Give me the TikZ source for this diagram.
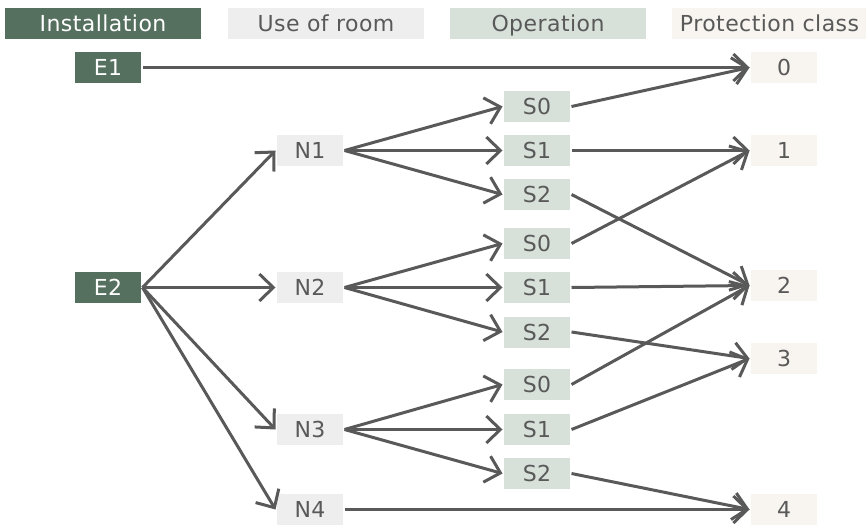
\documentclass[tikz,border=0pt]{standalone}
\usepackage{fontspec}
\setmainfont{DejaVu Sans}[LetterSpace=2]
\usetikzlibrary{arrows.meta}
\definecolor{darkgreen}{HTML}{56705F}
\definecolor{roomgray}{HTML}{EEEEEE}
\definecolor{opgreen}{HTML}{D7E1DA}
\definecolor{classwhite}{HTML}{F8F5F0}
\definecolor{linegray}{HTML}{595959}

\begin{document}
\begin{tikzpicture}[x=1pt,y=-1pt,font=\fontsize{22}{26}\selectfont,
  box/.style={minimum width=66pt,minimum height=31pt,inner sep=0pt,text height=16pt,text depth=0pt,text=linegray},
  head/.style={box,minimum width=196pt},
  inst/.style={fill=darkgreen,text=white},
  room/.style={fill=roomgray},
  oper/.style={fill=opgreen},
  prot/.style={fill=classwhite},
  >={Straight Barb[length=14pt,width=27pt]},->,line width=3pt,draw=linegray]
                \useasboundingbox (0,0) rectangle (866,525);
                % column heads
                \node[head, inst] (hinst) at (103,23.5) {Installation};
                \node[head, room] (hroom) at (326,23.5) {Use of room};
                \node[head, oper] (hoper) at (548,23.5) {Operation};
                \node[head, prot] (hprot) at (769.5,23.5) {Protection class};

                \node[box, inst] (e1) at (108,67.5) {E1};
                \node[box, inst] (e2) at (108,287.5) {E2};

                \node[box, room] (n1) at (310,150.5) {N1};
                \node[box, room] (n2) at (310,287.5) {N2};
                \node[box, room] (n3) at (310,429.5) {N3};
                \node[box, room] (n4) at (310,509.5) {N4};

                \node[box, oper] (s10) at (537,106.5) {S0};
                \node[box, oper] (s11) at (537,150.5) {S1};
                \node[box, oper] (s12) at (537,194.5) {S2};
                \node[box, oper] (s20) at (537,243.5) {S0};
                \node[box, oper] (s21) at (537,287.5) {S1};
                \node[box, oper] (s22) at (537,332) {S2};
                \node[box, oper] (s30) at (537,384.5) {S0};
                \node[box, oper] (s31) at (537,429.5) {S1};
                \node[box, oper] (s32) at (537,473.5) {S2};

                \node[box, prot] (p0) at (784,67.5) {0};
                \node[box, prot] (p1) at (784,150.5) {1};
                \node[box, prot] (p2) at (784,285.5) {2};
                \node[box, prot] (p3) at (784,358.5) {3};
                \node[box, prot] (p4) at (784,509.5) {4};

                \path
                (e1.east) edge (p0.west)
                (e2.east) edge (n1.west)
                          edge (n2.west)
                          edge (n3.west)
                          edge (n4.west)
                (n1.east) edge (s10.west)
                          edge (s11.west)
                          edge (s12.west)
                (n2.east) edge (s20.west)
                          edge (s21.west)
                          edge (s22.west)
                (n3.east) edge (s30.west)
                          edge (s31.west)
                          edge (s32.west)
                (n4.east) edge (p4.west)
                (s10.east) edge (p0.west)
                (s11.east) edge (p1.west)
                (s12.east) edge (p2.west)
                (s20.east) edge (p1.west)
                (s21.east) edge (p2.west)
                (s22.east) edge (p3.west)
                (s30.east) edge (p2.west)
                (s31.east) edge (p3.west)
                (s32.east) edge (p4.west)
                ;
\end{tikzpicture}
\end{document}
